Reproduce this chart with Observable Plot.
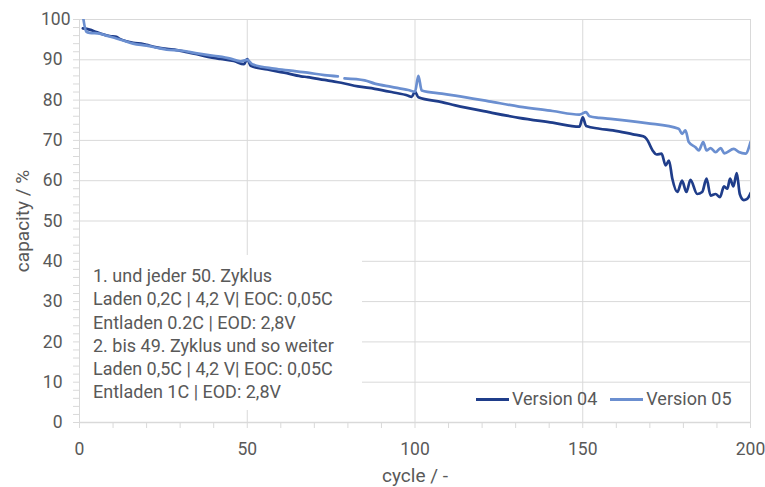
<!DOCTYPE html>
<html>
<head>
<meta charset="utf-8">
<script src="https://cdn.jsdelivr.net/npm/d3@7"></script>
<script src="https://cdn.jsdelivr.net/npm/@observablehq/plot@0.6"></script>
<style>
  body { margin: 0; background: #fff; }
  #wrap { position: relative; width: 765px; height: 487px; font-family: Roboto, "Noto Sans", sans-serif; color: #595959; }
  #note { position: absolute; left: 80px; top: 255px; width: 282px; height: 155px; background: #fff; box-sizing: border-box; padding: 9px 0 0 13px; font-size: 18px; line-height: 23.3px; white-space: nowrap; }
  #legend { position: absolute; left: 476px; top: 388px; font-size: 18px; line-height: 22px; white-space: nowrap; display: flex; align-items: center; }
  .sw { display: inline-block; width: 33px; height: 3px; margin-right: 3px; }
  .item { display: flex; align-items: center; margin-right: 13px; }
</style>
</head>
<body>
<div id="wrap">
  <div id="chart"></div>
  <div id="note"></div>
  <div id="legend"></div>
</div>
<script>
// ---- data ----
const seriesNames = ["Version 04", "Version 05"];
const seriesColors = ["#1f3d8a", "#6b8fd0"];

const cycle04 = [1, 3, 5, 7, 9, 11, 12, 14, 16, 19, 20, 23, 26, 29, 32, 35, 38, 42, 46, 49, 50, 51, 56, 61, 66, 68, 73, 76, 78, 83, 88, 93, 98, 99, 100, 101, 108, 112, 122, 131, 141, 149, 150, 151, 155, 159, 165, 168, 169, 171, 172, 173.5, 174.7, 175.7, 176.7, 178.2, 179.6, 180.9, 182.1, 184.1, 185.6, 186.9, 188.1, 189.6, 190.9, 192.1, 193.1, 193.9, 194.9, 195.9, 196.8, 198, 199, 200];
const cap04 = [97.8, 97.5, 96.9, 96.3, 95.9, 95.7, 95.2, 94.6, 94.2, 93.9, 93.7, 93.1, 92.7, 92.4, 91.9, 91.4, 90.8, 90.2, 89.7, 88.9, 90.2, 88.5, 87.6, 86.8, 85.9, 85.7, 85.0, 84.6, 84.3, 83.4, 82.8, 82.0, 81.1, 80.8, 82.1, 80.7, 79.5, 78.7, 77.0, 75.6, 74.4, 73.4, 75.7, 73.6, 72.9, 72.5, 71.5, 71.0, 70.4, 67.3, 66.5, 66.7, 63.8, 65.0, 60.5, 57.2, 60.0, 57.2, 60.2, 56.7, 57.2, 60.5, 56.3, 56.7, 55.9, 58.6, 58.0, 60.5, 58.6, 61.9, 56.7, 55.2, 55.5, 56.9];

const cycle05 = [1, 2, 3, 6, 8, 11, 13, 16, 20, 23, 26, 30, 35, 40, 45, 48, 50, 51.5, 58, 63, 68, 73, 77, 77.5, 79, 85, 88, 93, 98, 100, 101, 102, 108, 112, 122, 131, 141, 149, 151, 152, 155, 159, 169, 178.6, 179.6, 180.6, 181.6, 183.6, 184.6, 185.9, 186.9, 188.1, 189.6, 191.1, 192.2, 195, 196.5, 198.5, 200];
const cap05 = [101, 97.0, 96.7, 96.5, 96.0, 95.3, 94.8, 94.0, 93.5, 93.0, 92.5, 92.3, 91.6, 91.0, 90.3, 89.6, 90.0, 88.9, 87.8, 87.3, 86.8, 86.2, 85.9, NaN, 85.4, 84.9, 84.1, 83.3, 82.5, 82.1, 86.0, 82.4, 81.6, 81.1, 79.7, 78.4, 77.3, 76.4, 77.0, 76.0, 75.6, 75.3, 74.3, 72.9, 71.6, 72.5, 69.6, 68.3, 67.5, 69.6, 67.5, 68.1, 67.1, 68.1, 66.8, 67.9, 67.1, 66.7, 69.6];

const yTicks = [0, 10, 20, 30, 40, 50, 60, 70, 80, 90, 100];
const xTicks = [0, 50, 100, 150, 200];
const xTitle = "cycle / -";
const yTitle = "capacity / %";
const noteLines = [
  "1. und jeder 50. Zyklus",
  "Laden 0,2C | 4,2 V| EOC: 0,05C",
  "Entladen 0.2C | EOD: 2,8V",
  "2. bis 49. Zyklus und so weiter",
  "Laden 0,5C | 4,2 V| EOC: 0,05C",
  "Entladen 1C | EOD: 2,8V"
];

const d04 = cycle04.map((c, i) => ({cycle: c, cap: cap04[i]}));
const d05 = cycle05.map((c, i) => ({cycle: c, cap: cap05[i]}));

const grid = "#d9d9d9";
const txt = "#595959";
const chart = Plot.plot({
  width: 765,
  height: 487,
  marginLeft: 79,
  marginRight: 15,
  marginTop: 19,
  marginBottom: 65,
  style: {fontFamily: "Roboto, 'Noto Sans', sans-serif", fontSize: "17.5px", color: txt, background: "#fff", overflow: "visible"},
  x: {domain: [0, 200]},
  y: {domain: [0, 100]},
  marks: [
    Plot.gridY(yTicks.filter(d => d > 0), {stroke: grid, strokeOpacity: 1}),
    Plot.gridX(xTicks.filter(d => d > 0), {stroke: grid, strokeOpacity: 1}),
    Plot.axisY(d3.range(0, 101, 2), {tickSize: 6, tickFormat: () => "", stroke: grid, label: null}),
    Plot.axisY(yTicks.filter(d => d < 100), {tickSize: 0, tickPadding: 17, label: null, fill: txt, fontSize: 17.5}),
    Plot.axisY([100], {tickSize: 0, tickPadding: 9, label: null, fill: txt, fontSize: 17.5}),
    Plot.axisY([], {tickSize: 0, label: yTitle, labelAnchor: "center", labelArrow: "none", labelOffset: 64, fill: txt, fontSize: 19}),
    Plot.axisX(d3.range(0, 201, 10), {tickSize: 6, tickFormat: () => "", stroke: grid, label: null}),
    Plot.axisX(xTicks, {tickSize: 0, tickPadding: 20, label: null, fill: txt, fontSize: 17.5}),
    Plot.axisX([], {tickSize: 0, label: xTitle, labelAnchor: "center", labelArrow: "none", labelOffset: 59, fill: txt, fontSize: 19}),
    Plot.ruleX([0], {stroke: grid}),
    Plot.ruleY([0], {stroke: grid, strokeWidth: 1.5}),
    Plot.line(d04, {x: "cycle", y: "cap", stroke: seriesColors[0], strokeWidth: 2.7, curve: "monotone-x", clip: true}),
    Plot.line(d05, {x: "cycle", y: "cap", stroke: seriesColors[1], strokeWidth: 2.7, curve: "monotone-x", clip: true})
  ]
});
document.getElementById("chart").append(chart);

document.getElementById("note").innerHTML = noteLines.map(l => `<div>${l}</div>`).join("");
document.getElementById("legend").innerHTML = seriesNames.map((n, i) =>
  `<span class="item"><span class="sw" style="background:${seriesColors[i]}"></span>${n}</span>`).join("");
</script>
</body>
</html>
